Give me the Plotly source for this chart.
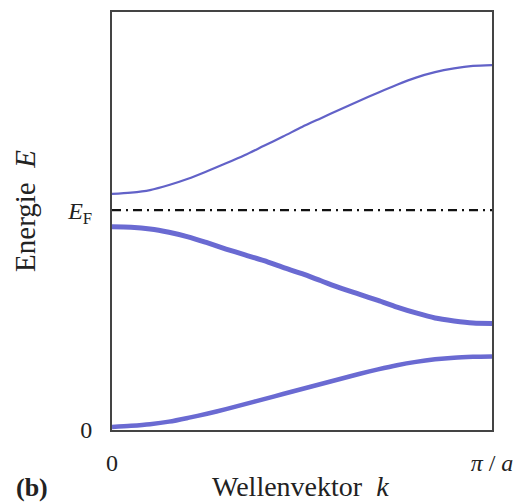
import plotly.graph_objects as go

# wave vector as fraction of pi/a
k = [0.00, 0.05, 0.10, 0.15, 0.20, 0.25, 0.30, 0.35, 0.40, 0.45, 0.50,
     0.55, 0.60, 0.65, 0.70, 0.75, 0.80, 0.85, 0.90, 0.95, 1.00]
# energies (arbitrary units)
band_upper = [5.65, 5.68, 5.74, 5.86, 6.01, 6.19, 6.38, 6.58, 6.80, 7.02, 7.25,
              7.46, 7.67, 7.87, 8.07, 8.26, 8.43, 8.56, 8.65, 8.71, 8.73]
band_middle = [4.86, 4.85, 4.81, 4.73, 4.62, 4.48, 4.33, 4.19, 4.05, 3.89, 3.74,
               3.57, 3.40, 3.25, 3.10, 2.94, 2.80, 2.68, 2.61, 2.56, 2.55]
band_lower = [0.07, 0.10, 0.14, 0.20, 0.29, 0.39, 0.50, 0.62, 0.74, 0.86, 0.98,
              1.10, 1.22, 1.34, 1.45, 1.55, 1.63, 1.69, 1.73, 1.75, 1.76]
E_fermi = 5.26

x_tickvals = [0.0, 1.0]
x_ticktext = ["0", "<i>π</i> / <i>a</i>"]
y_tickvals = [0.0, E_fermi]
y_ticktext = ["0", "<i>E</i><sub>F</sub>"]

BLUE = "#6a6ad2"
FONT = "Liberation Serif, Times New Roman, serif"

fig = go.Figure()
fig.add_trace(go.Scatter(x=k, y=band_upper, mode="lines",
                         line=dict(color="#6262c8", width=2.2, shape="spline", smoothing=0.8),
                         showlegend=False))
fig.add_trace(go.Scatter(x=k, y=band_middle, mode="lines",
                         line=dict(color=BLUE, width=5, shape="spline", smoothing=0.8),
                         showlegend=False))
fig.add_trace(go.Scatter(x=k, y=band_lower, mode="lines",
                         line=dict(color=BLUE, width=4.5, shape="spline", smoothing=0.8),
                         showlegend=False))
fig.add_trace(go.Scatter(x=[k[0], k[-1]], y=[E_fermi, E_fermi], mode="lines",
                         line=dict(color="#111111", width=2.2, dash="9px,5px,2px,5px"),
                         showlegend=False))

# the page body has an 8px margin, so the figure is shrunk by it
fig.update_layout(
    width=517, height=496,
    margin=dict(l=104, r=33, t=2, b=74),
    paper_bgcolor="white", plot_bgcolor="white",
    font=dict(family=FONT, size=24, color="#222222"),
    xaxis=dict(range=[0, 1], tickvals=x_tickvals, ticktext=x_ticktext,
               showgrid=False, zeroline=False, ticks="", showline=True,
               linecolor="#444444", linewidth=2, mirror=True,
               ticklabelstandoff=10, tickfont=dict(size=24, family=FONT)),
    yaxis=dict(range=[0, 10], tickvals=y_tickvals, ticktext=y_ticktext,
               showgrid=False, zeroline=False, ticks="", showline=True,
               linecolor="#444444", linewidth=2, mirror=True,
               ticklabelstandoff=13, tickfont=dict(size=24, family=FONT)),
    annotations=[
        dict(text="Wellenvektor  <i>k</i>", x=0.495, y=-0.136, xref="paper", yref="paper",
             showarrow=False, font=dict(size=28, family=FONT), xanchor="center", yanchor="middle"),
        dict(text="Energie  <i>E</i>", x=-0.229, y=0.524, xref="paper", yref="paper",
             showarrow=False, textangle=-90, font=dict(size=29, family=FONT),
             xanchor="center", yanchor="middle"),
        dict(text="<b>(b)</b>", x=-0.21, y=-0.138, xref="paper", yref="paper",
             showarrow=False, font=dict(size=26, family=FONT), xanchor="center", yanchor="middle"),
    ],
)

fig.write_html("out.html")
